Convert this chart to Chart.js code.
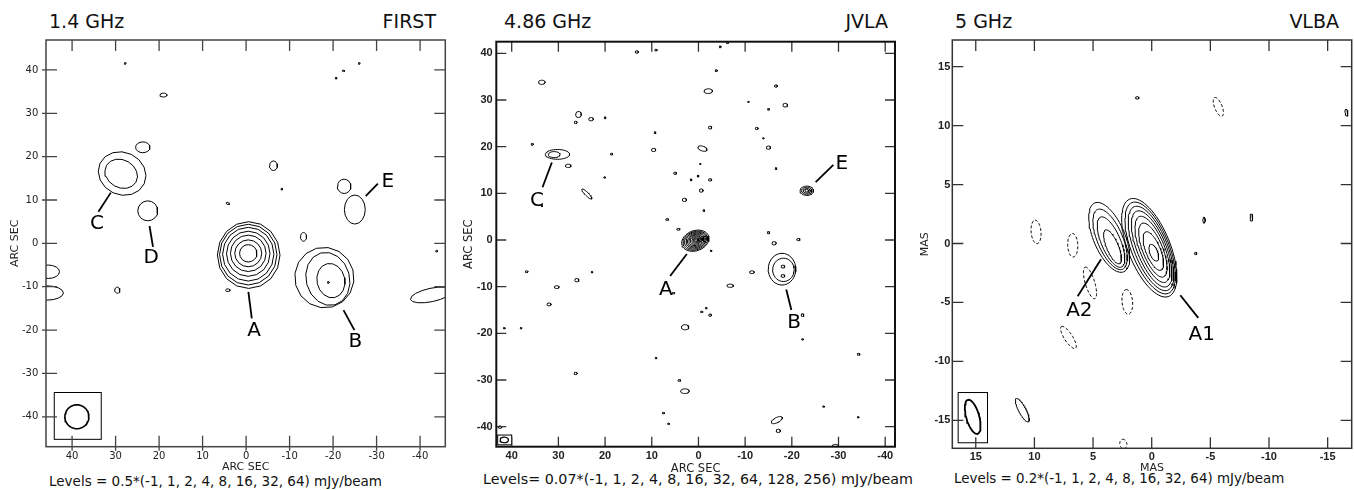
<!DOCTYPE html>
<html><head><meta charset="utf-8">
<script src="https://cdn.jsdelivr.net/npm/chart.js@4.4.1/dist/chart.umd.min.js"></script>
<style>
html,body{margin:0;padding:0;background:#fff;}
body{width:1354px;height:490px;position:relative;overflow:hidden;font-family:"DejaVu Sans",sans-serif;color:#111;}
canvas{position:absolute;top:0;}
.t{position:absolute;font-size:19px;line-height:1;white-space:nowrap;top:12px;}
.lv{position:absolute;line-height:1;white-space:nowrap;}
</style></head><body>
<div class="t" style="left:49px">1.4 GHz</div>
<div class="t" style="right:918px">FIRST</div>
<div class="t" style="left:504px">4.86 GHz</div>
<div class="t" style="right:466px">JVLA</div>
<div class="t" style="left:955px">5 GHz</div>
<div class="t" style="right:15px">VLBA</div>
<div class="lv" style="left:49px;top:475px;font-size:13.5px">Levels = 0.5*(-1, 1, 2, 4, 8, 16, 32, 64) mJy/beam</div>
<div class="lv" style="left:483px;top:471.5px;font-size:14.3px">Levels= 0.07*(-1, 1, 2, 4, 8, 16, 32, 64, 128, 256) mJy/beam</div>
<div class="lv" style="left:954px;top:471.5px;font-size:13.4px">Levels = 0.2*(-1, 1, 2, 4, 8, 16, 32, 64) mJy/beam</div>
<canvas id="c1" width="460" height="490" style="left:0px"></canvas>
<canvas id="c2" width="450" height="490" style="left:455px"></canvas>
<canvas id="c3" width="449" height="490" style="left:905px"></canvas>
<script>
// ---------- DATA (contours: [x, y, semi-axis 1, semi-axis 2, angle deg]) ----------
const firstTicks = [40, 30, 20, 10, 0, -10, -20, -30, -40];
const firstContours = [
  [-0.6,-2.7,7.2,7.7,0],[-0.5,-2.6,6.6,7.0,0],[-0.5,-2.5,5.9,6.2,0],[-0.5,-2.4,5.0,5.2,0],
  [-0.5,-2.3,4.1,4.2,0],[-0.5,-2.3,3.1,3.1,0],[-0.5,-2.3,2.0,2.0,0],
  [-18.0,-7.9,6.8,7.0,-15],[-18.8,-8.2,5.0,6.2,-15],[-19.5,-8.6,3.2,4.0,-12],[-18.9,-9.0,0.2,0.2,0],
  [28.5,16.1,5.6,4.9,25],[28.7,16.05,3.9,3.2,30],[23.75,22.15,1.65,1.25,0],
  [22.6,7.5,2.3,2.3,0],
  [-25.0,7.8,2.4,3.35,0],[-22.55,13.15,1.55,1.65,0],
  [27.8,41.5,0.2,0.2,0],[19.0,34.2,0.8,0.45,0],[-6.3,17.9,0.9,1.1,0],[-8.2,12.5,0.2,0.2,0],
  [4.2,9.2,0.4,0.2,30],[-13.2,1.5,0.7,1.0,0],[-20.7,38.1,0.2,0.2,0],[-22.4,39.8,0.3,0.15,0],
  [-26.0,41.5,0.2,0.2,0],[45.5,-6.55,2.6,1.55,0],[45.8,-11.45,3.8,1.65,0],[29.6,-10.8,0.6,0.7,0],
  [4.2,-10.8,0.5,0.3,0],[-42.6,-11.9,4.9,1.55,-12],[-43.8,-1.8,0.2,0.2,0]
];
const firstBeam = [38.9,-40.0,2.76,2.76,0];
const firstBeamBox = [44.1,-34.4,33.3,-45.2];
const firstLabels = [
  ['A',-1.84,-20.2,-0.53,-11.2,-1.31,-17.3],
  ['B',-25.1,-22.7,-22.4,-15.4,-24.9,-20.0],
  ['C',34.3,4.6,33.95,7.3,31.1,11.7],
  ['D',21.8,-3.3,21.4,-0.8,22.2,4.0],
  ['E',-32.6,14.2,-27.5,10.9,-30.3,13.8]
];

const jvlaTicks = [40, 30, 20, 10, 0, -10, -20, -30, -40];
const jvlaContours = [
  [0.67,-0.15,3.0,2.16,-20],[0.67,-0.15,2.7,1.94,-20],[0.65,-0.12,2.4,1.73,-20],[0.62,-0.1,2.1,1.51,-20],
  [0.6,-0.08,1.8,1.3,-20],[0.58,-0.05,1.5,1.08,-20],[0.55,-0.03,1.2,0.86,-20],[0.52,0.0,0.9,0.65,-20],
  [0.5,0.0,0.6,0.43,-20],[0.5,0.0,0.35,0.25,-20],
  [-17.9,-6.25,2.95,3.4,0],[-18.2,-6.4,2.3,2.5,0],[-18.1,-5.7,0.4,0.3,0],[-18.1,-7.7,0.4,0.3,0],
  [30.2,18.35,2.6,1.05,0],[30.9,18.3,1.25,0.65,0],
  [-23.2,10.55,1.45,1.0,0],[-23.2,10.55,1.1,0.75,0],[-23.2,10.55,0.75,0.5,0],[-23.2,10.55,0.4,0.27,0],
  [27.9,15.9,0.6,0.35,0],[23.9,9.85,1.5,0.35,45],[35.6,20.5,0.25,0.2,0],[18.6,18.4,0.25,0.2,0],
  [20.1,13.4,0.2,0.15,0],[13.2,40.3,0.35,0.25,0],[9.1,40.7,0.25,0.2,0],[-4.65,41.4,0.2,0.2,0],
  [-6.2,42.3,0.25,0.2,0],[-3.8,36.3,0.25,0.2,0],[33.55,33.8,0.7,0.45,0],[-2.1,31.9,0.9,0.5,0],
  [-16.6,33.0,0.3,0.25,0],[-10.7,29.6,0.15,0.15,0],[-15.0,28.0,0.2,0.2,0],[-18.6,28.9,0.5,0.4,0],
  [25.7,26.9,0.6,0.65,0],[26.3,25.2,0.3,0.25,0],[23.0,25.9,0.5,0.35,0],[20.0,26.2,0.2,0.2,0],
  [9.3,23.0,0.2,0.2,0],[-2.5,24.1,0.35,0.3,0],[-12.5,23.9,0.3,0.25,0],[-13.9,21.8,0.15,0.15,0],
  [-15.0,19.8,0.45,0.35,0],[9.6,19.3,0.45,0.35,0],[-0.86,19.6,1.0,0.5,20],[-0.4,16.3,0.15,0.15,0],
  [-16.6,15.3,0.2,0.2,0],[5.0,14.3,0.3,0.25,0],[1.6,12.9,0.2,0.2,0],[0.1,13.7,0.2,0.2,0],
  [-2.5,12.9,0.35,0.25,0],[-0.6,10.6,0.4,0.35,0],[3.0,8.6,0.45,0.35,0],[-1.15,6.3,0.2,0.2,0],
  [6.7,4.4,0.3,0.2,0],[4.3,2.3,0.35,0.2,0],[-15.0,1.57,0.25,0.25,0],[-16.2,-0.7,0.45,0.35,0],
  [-21.4,0.1,0.35,0.25,0],[36.8,-6.8,0.3,0.2,0],[22.8,-6.9,0.2,0.15,0],[26.05,-8.6,0.45,0.35,0],
  [30.35,-10.1,0.5,0.3,0],[32.0,-13.8,0.45,0.3,0],[41.6,-18.9,0.2,0.15,0],[38.0,-18.9,0.2,0.15,0],
  [26.3,-28.6,0.35,0.25,0],[9.1,-25.3,0.2,0.15,0],[2.85,-18.7,0.8,0.55,0],[-0.7,-15.4,0.25,0.15,0],
  [-1.65,-14.6,0.2,0.15,0],[-2.5,-16.1,0.3,0.25,0],[-2.7,-2.3,0.2,0.15,0],[-6.8,-9.8,0.7,0.35,0],
  [-11.45,-6.9,0.5,0.3,0],[-22.3,-16.1,0.3,0.3,0],[-22.3,-21.3,0.2,0.15,0],[-34.3,-24.5,0.3,0.2,0],
  [4.1,-30.1,0.3,0.2,0],[2.9,-32.4,0.9,0.5,0],[7.5,-37.1,0.25,0.15,0],[6.4,-39.4,0.2,0.15,0],
  [-16.8,-38.6,1.3,0.55,-27],[-17.1,-40.9,0.45,0.35,0],[-26.8,-35.7,0.2,0.15,0],[-34.2,-38.0,0.2,0.15,0],
  [-29.3,-44.3,0.7,0.5,0],[42.5,-40.1,0.4,0.25,0],[33.55,7.3,0.15,0.15,0],[5.36,-11.4,0.3,0.15,0]
];
const jvlaBeam = [41.6,-42.85,0.9,0.6,0];
const jvlaBeamBox = [43.0,-41.8,40.0,-43.9];
const jvlaLabels = [
  ['A',7.0,-10.6,6.06,-7.7,2.49,-3.0],
  ['B',-20.5,-17.85,-18.8,-10.6,-19.9,-15.0],
  ['C',34.6,8.36,33.4,11.3,31.4,16.6],
  ['E',-30.7,16.3,-25.1,12.4,-28.9,16.1]
];

const vlbaTicks = [15, 10, 5, 0, -5, -10, -15];
const vlbaContours = [
  [0.21,-0.36,4.45,1.79,68],[0.13,-0.38,4.15,1.6,68],[0.06,-0.42,3.82,1.42,68],[0.0,-0.46,3.45,1.24,68],
  [-0.06,-0.5,3.0,1.05,68],[-0.1,-0.56,2.45,0.85,68],[-0.14,-0.64,1.75,0.62,68],[-0.18,-0.78,0.75,0.33,68],
  [3.62,0.52,3.17,1.34,67],[3.55,0.35,2.75,1.08,67],[3.47,0.12,2.3,0.82,67],[3.34,-0.28,1.55,0.5,67],
  [1.23,12.35,0.15,0.1,0],[-4.46,1.98,0.25,0.1,90],[-8.5,2.2,0.3,0.12,90],[-16.6,11.1,0.3,0.12,80],
  [-3.75,-0.85,0.1,0.1,0],[11.03,-14.14,1.12,0.3,62]
];
const vlbaNegContours = [
  [9.86,0.98,1.0,0.42,85],[6.73,-0.15,1.0,0.43,88],[5.26,-3.34,1.4,0.4,73],[2.08,-4.95,1.05,0.45,85],
  [7.1,-7.97,1.1,0.35,57],[-5.68,11.59,0.85,0.32,68],[2.42,-17.0,0.4,0.3,80]
];
const vlbaBeam = [15.26,-14.7,1.5,0.55,74];
const vlbaBeamBox = [16.5,-12.64,14.0,-16.9];
const vlbaLabels = [
  ['A2',6.17,-5.74,6.31,-4.47,4.32,-1.33],
  ['A1',-4.26,-7.78,-2.44,-4.39,-3.97,-6.31]
];

// ---------- helpers ----------
function ellipsePts(c, n) {
  const [cx, cy, rx, ry, ang] = c;
  const th = (ang || 0) * Math.PI / 180, co = Math.cos(th), si = Math.sin(th);
  const pts = [];
  for (let i = 0; i <= n; i++) {
    const t = 2 * Math.PI * i / n, ex = rx * Math.cos(t), ey = ry * Math.sin(t);
    pts.push({x: cx + ex * co - ey * si, y: cy + ex * si + ey * co});
  }
  return pts;
}
function ds(c, opts) {
  return Object.assign({data: ellipsePts(c, opts.n || 40), showLine: true, borderColor: '#000',
    borderWidth: 1, pointRadius: 0, pointHoverRadius: 0, fill: false, tension: 0}, opts.extra || {});
}

const framePlugin = {
  id: 'frame',
  afterDatasetsDraw(chart, args, o) {
    const {ctx, chartArea: a, scales: {x, y}} = chart;
    ctx.save();
    if (o.box) {
      const x1 = x.getPixelForValue(o.box[0]), y1 = y.getPixelForValue(o.box[1]);
      const x2 = x.getPixelForValue(o.box[2]), y2 = y.getPixelForValue(o.box[3]);
      ctx.strokeStyle = '#000'; ctx.lineWidth = 1;
      ctx.strokeRect(x1, y1, x2 - x1, y2 - y1);
    }
    ctx.fillStyle = '#000'; ctx.strokeStyle = '#000'; ctx.lineWidth = 1.8;
    ctx.font = '20px "DejaVu Sans"'; ctx.textAlign = 'center'; ctx.textBaseline = 'middle';
    (o.labels || []).forEach(l => {
      ctx.beginPath();
      ctx.moveTo(x.getPixelForValue(l[3]), y.getPixelForValue(l[4]));
      ctx.lineTo(x.getPixelForValue(l[5]), y.getPixelForValue(l[6]));
      ctx.stroke();
      ctx.fillText(l[0], x.getPixelForValue(l[1]), y.getPixelForValue(l[2]));
    });
    ctx.strokeStyle = o.tickColor; ctx.lineWidth = o.tickWidth;
    ctx.beginPath();
    x.ticks.forEach(t => {
      const p = x.getPixelForValue(t.value);
      ctx.moveTo(p, a.top); ctx.lineTo(p, a.top + o.len);
      ctx.moveTo(p, a.bottom + o.out); ctx.lineTo(p, a.bottom - o.len);
    });
    y.ticks.forEach(t => {
      const p = y.getPixelForValue(t.value);
      ctx.moveTo(a.left - o.out, p); ctx.lineTo(a.left + o.len, p);
      ctx.moveTo(a.right, p); ctx.lineTo(a.right - o.len, p);
    });
    ctx.stroke();
    ctx.strokeStyle = o.color; ctx.lineWidth = o.width;
    ctx.strokeRect(a.left, a.top, a.right - a.left, a.bottom - a.top);
    ctx.restore();
  }
};

function makePanel(p) {
  const datasets = [];
  p.contours.forEach(c => datasets.push(ds(c, {n: p.n})));
  (p.neg || []).forEach(c => datasets.push(ds(c, {n: 48, extra: {borderDash: [3, 2]}})));
  datasets.push(ds(p.beam, {n: 48, extra: {borderWidth: p.beamWidth}}));
  const scaleLeft = p.yTitleX - p.yTitleLH / 2;
  const scaleBottom = p.xTitleY + p.xTitleLH / 2;
  new Chart(document.getElementById(p.id), {
    type: 'scatter',
    data: {datasets},
    plugins: [framePlugin],
    options: {
      responsive: false, animation: false, devicePixelRatio: 1,
      layout: {padding: {left: scaleLeft - p.cl, top: p.area.t, right: p.cl + p.cw - p.area.r, bottom: 490 - scaleBottom}},
      plugins: {legend: {display: false}, tooltip: {enabled: false},
        frame: {box: p.box, labels: p.labels, len: p.tickLen, out: p.tickOut, tickColor: p.tickColor,
                tickWidth: p.tickWidth, color: p.frameColor, width: p.frameWidth}},
      scales: {
        x: {type: 'linear', min: p.xr[0], max: p.xr[1], reverse: true,
          afterBuildTicks: s => { s.ticks = p.ticks.map(v => ({value: v})); },
          afterFit: s => { s.height = scaleBottom - p.area.b; },
          grid: {display: false, drawTicks: false}, border: {display: false},
          ticks: {autoSkip: false, maxRotation: 0, minRotation: 0, padding: p.xPad, color: '#222',
                  font: p.tickFont, callback: v => String(v)},
          title: {display: true, text: p.xTitle, color: '#222', padding: 0,
                  font: {family: 'DejaVu Sans', size: p.titleSize}}},
        y: {type: 'linear', min: p.yr[0], max: p.yr[1],
          afterBuildTicks: s => { s.ticks = p.ticks.map(v => ({value: v})); },
          afterFit: s => { s.width = p.area.l - scaleLeft; },
          grid: {display: false, drawTicks: false}, border: {display: false},
          ticks: {autoSkip: false, padding: p.yPad, color: '#222', font: p.tickFont, callback: v => String(v)},
          title: {display: true, text: p.yTitle, color: '#222', padding: 0,
                  font: {family: 'DejaVu Sans', size: p.titleSize}}}
      }
    }
  });
}

makePanel({id: 'c1', cl: 0, cw: 460, area: {l: 46, t: 40, r: 445.3, b: 446.7},
  xr: [-45.8, 46], yr: [-46.9, 46.9], ticks: firstTicks, contours: firstContours, n: 16,
  beam: firstBeam, beamWidth: 1.6, box: firstBeamBox, labels: firstLabels,
  xTitle: 'ARC SEC', yTitle: 'ARC SEC', titleSize: 11, yTitleX: 15.3, yTitleLH: 13.2, xTitleY: 467.3, xTitleLH: 13.2,
  tickFont: {family: 'DejaVu Sans', size: 10}, xPad: 3.3, yPad: 7.7,
  tickLen: 11, tickOut: 4, tickColor: '#444', tickWidth: 1.3, frameColor: '#444', frameWidth: 1.5});

makePanel({id: 'c2', cl: 455, cw: 450, area: {l: 496.3, t: 41.7, r: 895, b: 446.7},
  xr: [-42.1, 43.3], yr: [-44.3, 42.5], ticks: jvlaTicks, contours: jvlaContours, n: 36,
  beam: jvlaBeam, beamWidth: 1.2, box: jvlaBeamBox, labels: jvlaLabels,
  xTitle: 'ARC SEC', yTitle: 'ARC SEC', titleSize: 11.5, yTitleX: 469, yTitleLH: 13.8, xTitleY: 469.3, xTitleLH: 13.8,
  tickFont: {family: 'Liberation Sans', size: 11, weight: 'bold'}, xPad: 2.4, yPad: 3.6,
  tickLen: 10, tickOut: 0, tickColor: '#333', tickWidth: 1.3, frameColor: '#111', frameWidth: 2});

makePanel({id: 'c3', cl: 905, cw: 449, area: {l: 952.3, t: 40, r: 1351.7, b: 448.3},
  xr: [-17.05, 17.0], yr: [-17.37, 17.26], ticks: vlbaTicks, contours: vlbaContours, neg: vlbaNegContours, n: 72,
  beam: vlbaBeam, beamWidth: 1.8, box: vlbaBeamBox, labels: vlbaLabels,
  xTitle: 'MAS', yTitle: 'MAS', titleSize: 11, yTitleX: 925, yTitleLH: 13.2, xTitleY: 468.3, xTitleLH: 13.2,
  tickFont: {family: 'Liberation Sans', size: 11, weight: 'bold'}, xPad: 2.4, yPad: 2,
  tickLen: 11, tickOut: 0, tickColor: '#333', tickWidth: 1.3, frameColor: '#333', frameWidth: 1.5});
</script>
</body></html>
